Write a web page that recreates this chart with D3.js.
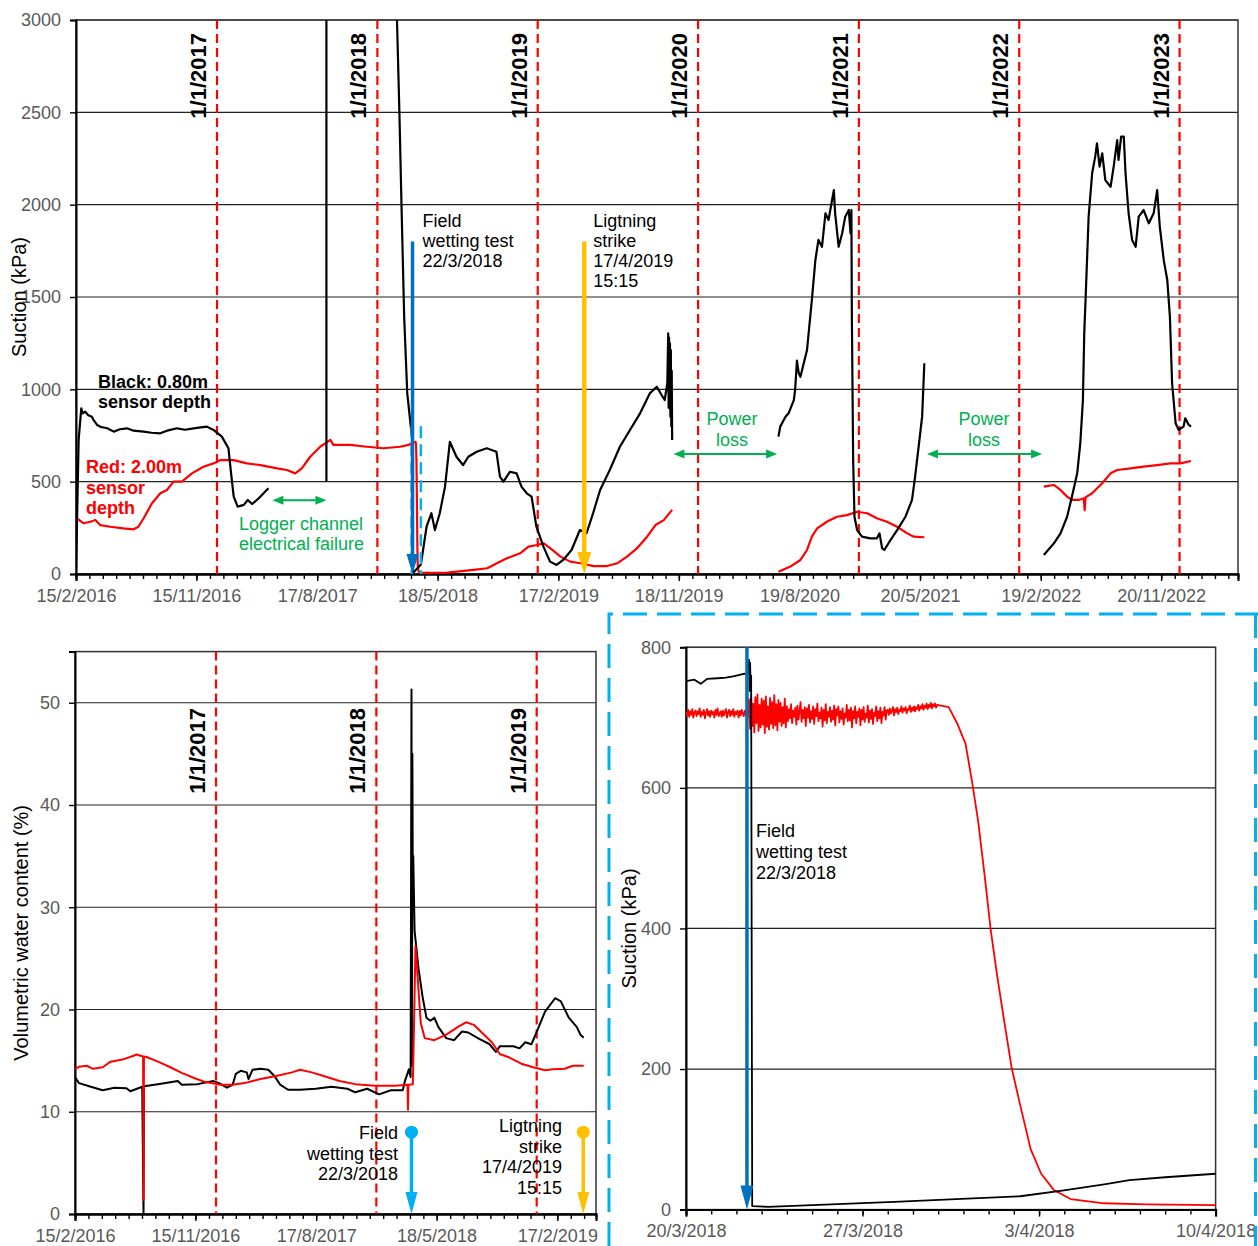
<!DOCTYPE html>
<html>
<head>
<meta charset="utf-8">
<script src="https://cdn.jsdelivr.net/npm/d3@7"></script>
<style>
  body { margin: 0; background: #fff; }
  svg { display: block; }
  text { font-family: "Liberation Sans", Arial, Helvetica, sans-serif; }
</style>
</head>
<body>
<svg id="chart" width="1258" height="1246"></svg>
<script>
// ---------- data ----------
const topTickLabels = ["15/2/2016", "15/11/2016", "17/8/2017", "18/5/2018", "17/2/2019",
  "18/11/2019", "19/8/2020", "20/5/2021", "19/2/2022", "20/11/2022"];
const vwcTickLabels = ["15/2/2016", "15/11/2016", "17/8/2017", "18/5/2018", "17/2/2019"];
const insetTickLabels = ["20/3/2018", "27/3/2018", "3/4/2018", "10/4/2018"];
const topYearLines = ["1/1/2017", "1/1/2018", "1/1/2019", "1/1/2020", "1/1/2021", "1/1/2022", "1/1/2023"];
const vwcYearLines = ["1/1/2017", "1/1/2018", "1/1/2019"];
const suctionTicks = [0, 500, 1000, 1500, 2000, 2500, 3000];
const vwcTicks = [0, 10, 20, 30, 40, 50];
const insetTicks = [0, 200, 400, 600, 800];

const eventDates = ["22/3/2018", "17/4/2019"];
const eventLabels = [["Field", "wetting test", "22/3/2018"], ["Ligtning", "strike", "17/4/2019", "15:15"]];
const insetWindow = ["20/3/2018", "10/4/2018"];
const insetEventTime = "2018-03-22T10:00";

// suction, 0.80 m sensor (kPa), one array per logged segment
const suction080 = [
  [["2016-02-15", 12], ["2016-02-21", 726], ["2016-02-27", 897], ["2016-03-01", 870], ["2016-03-07", 879],
   ["2016-03-14", 860], ["2016-03-22", 852], ["2016-03-27", 830], ["2016-04-03", 807], ["2016-04-12", 796],
   ["2016-04-26", 789], ["2016-05-11", 771], ["2016-05-25", 784], ["2016-06-10", 789], ["2016-06-25", 776],
   ["2016-07-18", 771], ["2016-08-05", 765], ["2016-08-25", 762], ["2016-09-12", 778], ["2016-10-02", 789],
   ["2016-10-20", 781], ["2016-11-09", 789], ["2016-11-25", 794], ["2016-12-09", 798], ["2016-12-24", 780],
   ["2017-01-12", 744], ["2017-01-27", 681], ["2017-02-02", 545], ["2017-02-08", 419], ["2017-02-17", 365],
   ["2017-03-03", 374], ["2017-03-12", 401], ["2017-03-22", 379], ["2017-04-06", 410], ["2017-04-28", 464]],
  [["2017-09-07", 500], ["2017-09-07", 3100]],
  [["2018-02-13", 3150], ["2018-02-20", 2513], ["2018-02-25", 1989], ["2018-03-03", 1393], ["2018-03-10", 980],
   ["2018-03-20", 755], ["2018-03-22", 765], ["2018-03-23", 5], ["2018-04-10", 51], ["2018-04-23", 256],
   ["2018-05-04", 329], ["2018-05-12", 238], ["2018-05-23", 329], ["2018-06-04", 473], ["2018-06-15", 716],
   ["2018-06-30", 635], ["2018-07-15", 590], ["2018-07-27", 635], ["2018-08-15", 662], ["2018-09-07", 681],
   ["2018-09-29", 662], ["2018-10-07", 527], ["2018-10-15", 500], ["2018-10-30", 554], ["2018-11-14", 545],
   ["2018-11-25", 473], ["2018-12-07", 437], ["2018-12-18", 419], ["2018-12-29", 256], ["2019-01-14", 148],
   ["2019-01-29", 67], ["2019-02-13", 49], ["2019-02-28", 76], ["2019-03-19", 130], ["2019-04-07", 238],
   ["2019-04-22", 220], ["2019-05-07", 329], ["2019-05-23", 455], ["2019-06-14", 563], ["2019-07-07", 689],
   ["2019-07-30", 780], ["2019-08-22", 870], ["2019-09-13", 978], ["2019-09-29", 1014], ["2019-10-10", 969],
   ["2019-10-17", 942], ["2019-10-23", 1033], ["2019-10-25", 1303], ["2019-10-26", 900], ["2019-10-27", 1280],
   ["2019-10-28", 950], ["2019-10-29", 1249], ["2019-10-30", 852], ["2019-10-31", 1213], ["2019-11-01", 800],
   ["2019-11-02", 1100], ["2019-11-03", 726]],
  [["2020-07-02", 744], ["2020-07-06", 798], ["2020-07-18", 852], ["2020-07-25", 870], ["2020-08-06", 942],
   ["2020-08-09", 1000], ["2020-08-13", 1155], ["2020-08-17", 1090], ["2020-08-21", 1068], ["2020-09-05", 1213],
   ["2020-09-16", 1484], ["2020-09-24", 1700], ["2020-10-01", 1809], ["2020-10-09", 1772], ["2020-10-17", 1953],
   ["2020-10-24", 1917], ["2020-11-01", 2025], ["2020-11-05", 2079], ["2020-11-08", 1953], ["2020-11-16", 1772],
   ["2020-11-24", 1845], ["2020-12-01", 1935], ["2020-12-09", 1971], ["2020-12-13", 1845], ["2020-12-15", 1971],
   ["2020-12-16", 1413], ["2020-12-19", 617], ["2020-12-22", 310], ["2020-12-28", 238], ["2021-01-08", 202],
   ["2021-01-27", 193], ["2021-02-11", 193], ["2021-02-17", 220], ["2021-02-23", 139], ["2021-02-28", 130],
   ["2021-03-14", 184], ["2021-03-29", 238], ["2021-04-17", 310], ["2021-05-02", 401], ["2021-05-09", 527],
   ["2021-05-17", 689], ["2021-05-25", 852], ["2021-05-30", 1141]],
  [["2022-02-26", 103], ["2022-03-21", 166], ["2022-04-05", 220], ["2022-04-20", 310], ["2022-05-01", 419],
   ["2022-05-13", 545], ["2022-05-20", 708], ["2022-05-26", 942], ["2022-05-29", 1303], ["2022-06-01", 1484],
   ["2022-06-08", 1935], ["2022-06-16", 2170], ["2022-06-23", 2260], ["2022-06-27", 2332], ["2022-07-03", 2206],
   ["2022-07-09", 2278], ["2022-07-16", 2133], ["2022-07-28", 2097], ["2022-08-04", 2206], ["2022-08-12", 2350],
   ["2022-08-15", 2242], ["2022-08-21", 2368], ["2022-08-27", 2368], ["2022-08-31", 2170], ["2022-09-07", 1953],
   ["2022-09-15", 1809], ["2022-09-23", 1772], ["2022-09-30", 1935], ["2022-10-11", 1971], ["2022-10-23", 1899],
   ["2022-11-03", 1953], ["2022-11-11", 2079], ["2022-11-17", 1881], ["2022-11-26", 1700], ["2022-12-04", 1592],
   ["2022-12-10", 1393], ["2022-12-15", 1033], ["2022-12-23", 816], ["2022-12-30", 780], ["2023-01-10", 798],
   ["2023-01-14", 843], ["2023-01-22", 807], ["2023-01-27", 798]]
];

// suction, 2.00 m sensor (kPa)
const suction200 = [
  [["2016-02-15", 94], ["2016-02-16", 302], ["2016-03-03", 275], ["2016-03-19", 283], ["2016-03-30", 292],
   ["2016-04-10", 265], ["2016-05-03", 256], ["2016-06-02", 247], ["2016-06-25", 242], ["2016-07-06", 256],
   ["2016-07-18", 302], ["2016-08-06", 383], ["2016-08-25", 437], ["2016-09-09", 455], ["2016-09-24", 500],
   ["2016-10-13", 500], ["2016-11-05", 545], ["2016-12-01", 581], ["2016-12-24", 599], ["2017-01-09", 617],
   ["2017-02-08", 617], ["2017-03-10", 599], ["2017-04-10", 590], ["2017-05-18", 572], ["2017-06-09", 563],
   ["2017-06-28", 545], ["2017-07-13", 572], ["2017-08-01", 635], ["2017-08-24", 689], ["2017-09-16", 726],
   ["2017-09-23", 699], ["2017-10-31", 699], ["2017-12-08", 689], ["2018-01-15", 681], ["2018-02-22", 689],
   ["2018-03-13", 699], ["2018-03-20", 708], ["2018-03-29", 716], ["2018-03-30", 700], ["2018-03-31", 611],
   ["2018-04-01", 400], ["2018-04-02", 150], ["2018-04-03", 40], ["2018-04-05", 12], ["2018-04-10", 6],
   ["2018-06-09", 7], ["2018-08-08", 22], ["2018-09-08", 31], ["2018-09-30", 58], ["2018-10-23", 85],
   ["2018-11-22", 112], ["2018-12-11", 148], ["2018-12-30", 157], ["2019-01-15", 166], ["2019-01-30", 139],
   ["2019-02-22", 94], ["2019-03-16", 67], ["2019-04-08", 58], ["2019-05-08", 43], ["2019-06-08", 43],
   ["2019-07-01", 58], ["2019-07-23", 94], ["2019-08-15", 139], ["2019-09-07", 202], ["2019-09-26", 265],
   ["2019-10-15", 292], ["2019-11-03", 347]],
  [["2020-07-02", 12], ["2020-07-29", 40], ["2020-08-21", 76], ["2020-09-05", 130], ["2020-09-16", 202],
   ["2020-09-28", 247], ["2020-10-20", 283], ["2020-11-12", 310], ["2020-12-05", 319], ["2020-12-28", 337],
   ["2021-01-20", 329], ["2021-02-11", 302], ["2021-03-06", 283], ["2021-03-29", 256], ["2021-04-21", 220],
   ["2021-05-06", 202], ["2021-05-30", 199]],
  [["2022-02-26", 473], ["2022-03-21", 482], ["2022-04-05", 455], ["2022-04-20", 419], ["2022-05-01", 401],
   ["2022-05-16", 401], ["2022-05-28", 410], ["2022-05-30", 345], ["2022-06-01", 415], ["2022-06-16", 437],
   ["2022-07-09", 491], ["2022-07-28", 545], ["2022-08-12", 563], ["2022-09-11", 572], ["2022-10-11", 581],
   ["2022-11-11", 590], ["2022-12-11", 599], ["2023-01-03", 599], ["2023-01-27", 612]]
];

// volumetric water content (%)
const vwc080 = [
  ["2016-02-15", 13.4], ["2016-02-24", 12.8], ["2016-03-22", 12.45], ["2016-04-18", 12.1], ["2016-05-15", 12.35],
  ["2016-06-11", 12.3], ["2016-06-20", 12.0], ["2016-07-17", 12.45], ["2016-07-20", 0], ["2016-07-21", 12.5],
  ["2016-08-22", 12.7], ["2016-10-06", 13.0], ["2016-10-15", 12.65], ["2016-11-20", 12.7], ["2016-12-26", 13.0],
  ["2017-01-08", 12.8], ["2017-01-26", 12.35], ["2017-02-08", 12.65], ["2017-02-15", 13.7], ["2017-02-26", 14.0],
  ["2017-03-12", 13.85], ["2017-03-16", 13.2], ["2017-03-25", 14.1], ["2017-04-12", 14.2], ["2017-04-30", 14.1],
  ["2017-05-14", 13.5], ["2017-05-27", 12.65], ["2017-06-14", 12.15], ["2017-07-11", 12.15], ["2017-08-16", 12.25],
  ["2017-09-21", 12.45], ["2017-10-27", 12.25], ["2017-11-14", 11.9], ["2017-12-11", 12.25], ["2018-01-07", 11.7],
  ["2018-02-03", 12.1], ["2018-03-02", 12.1], ["2018-03-07", 13.0], ["2018-03-16", 14.15], ["2018-03-20", 13.4],
  ["2018-03-22", 51.3], ["2018-03-23", 14.5], ["2018-03-24", 45], ["2018-03-25", 31], ["2018-03-26", 35],
  ["2018-03-29", 27.7], ["2018-04-07", 24.0], ["2018-04-16", 21.3], ["2018-04-25", 19.2], ["2018-05-04", 18.9],
  ["2018-05-13", 19.2], ["2018-05-22", 18.3], ["2018-06-09", 17.2], ["2018-06-27", 17.0], ["2018-07-15", 17.85],
  ["2018-07-29", 17.75], ["2018-08-20", 17.2], ["2018-09-16", 16.6], ["2018-09-30", 15.85], ["2018-10-09", 16.4],
  ["2018-11-09", 16.4], ["2018-11-23", 16.2], ["2018-12-06", 16.8], ["2018-12-20", 16.6], ["2019-01-02", 17.9],
  ["2019-01-20", 19.8], ["2019-02-12", 21.1], ["2019-02-25", 20.8], ["2019-03-15", 19.2], ["2019-04-02", 18.3],
  ["2019-04-11", 17.5], ["2019-04-18", 17.25]
];
const vwc200 = [
  ["2016-02-15", 14.15], ["2016-02-24", 14.4], ["2016-03-13", 14.5], ["2016-03-27", 14.2], ["2016-04-18", 14.35],
  ["2016-05-06", 14.9], ["2016-06-02", 15.1], ["2016-06-29", 15.5], ["2016-07-04", 15.6], ["2016-07-19", 15.4],
  ["2016-07-20", 1.4], ["2016-07-21", 15.4], ["2016-07-27", 15.35], ["2016-08-22", 14.9], ["2016-09-19", 14.35],
  ["2016-10-15", 13.8], ["2016-11-12", 13.3], ["2016-12-08", 12.9], ["2017-01-12", 12.65], ["2017-02-08", 12.65],
  ["2017-03-07", 12.8], ["2017-04-12", 13.2], ["2017-05-18", 13.5], ["2017-06-23", 13.85], ["2017-07-11", 14.1],
  ["2017-08-07", 13.85], ["2017-09-03", 13.5], ["2017-10-09", 13.0], ["2017-11-14", 12.7], ["2017-12-29", 12.55],
  ["2018-02-12", 12.55], ["2018-03-13", 12.65], ["2018-03-14", 10.2], ["2018-03-15", 12.65], ["2018-03-25", 12.7],
  ["2018-03-28", 19.1], ["2018-03-31", 26.2], ["2018-04-05", 23.2], ["2018-04-12", 18.7], ["2018-04-21", 17.2],
  ["2018-05-13", 17.0], ["2018-06-09", 17.55], ["2018-07-06", 18.3], ["2018-07-24", 18.75], ["2018-08-11", 18.5],
  ["2018-08-29", 17.75], ["2018-09-21", 16.8], ["2018-10-09", 15.65], ["2018-10-31", 15.3], ["2018-11-27", 14.7],
  ["2018-12-24", 14.35], ["2019-01-20", 14.05], ["2019-02-07", 14.15], ["2019-03-06", 14.2], ["2019-03-24", 14.5],
  ["2019-04-18", 14.5]
];

// inset, suction around the wetting test (kPa)
const inset080 = [
  ["2018-03-20T00:00", 752], ["2018-03-20T08:00", 754], ["2018-03-20T14:00", 748], ["2018-03-20T20:00", 755],
  ["2018-03-21T06:00", 756], ["2018-03-21T14:00", 757], ["2018-03-21T22:00", 759], ["2018-03-22T06:00", 762],
  ["2018-03-22T11:00", 763], ["2018-03-22T12:00", 782], ["2018-03-22T12:30", 738], ["2018-03-22T13:00", 778],
  ["2018-03-22T13:30", 745], ["2018-03-22T14:00", 760], ["2018-03-22T15:00", 5], ["2018-03-23T06:00", 4],
  ["2018-03-28T06:00", 11], ["2018-04-02T06:00", 19], ["2018-04-03T22:00", 27], ["2018-04-05T14:00", 36],
  ["2018-04-06T14:00", 42], ["2018-04-08T00:00", 46], ["2018-04-10T00:00", 51]
];
// hourly readings of the 2.00 m sensor from 20/3/2018 00:00 to 29/3/2018 23:00
const inset200Readings = [
  708, 703, 711, 701, 709, 704, 712, 700, 707, 710, 702, 709, 705, 713, 701, 708, 704, 711, 699, 707,
  712, 703, 709, 701, 710, 705, 708, 700, 711, 704, 713, 702, 706, 709, 701, 710, 703, 708, 712, 700,
  707, 711, 702, 709, 704, 712, 701, 708, 705, 710, 700, 709, 703, 711, 706, 702, 710, 704, 708, 701,
  726, 684, 731, 688, 720, 679, 729, 692, 733, 681, 718, 686, 727, 690, 724, 678, 730, 687, 716, 683,
  728, 691, 722, 685, 732, 689, 719, 682, 725, 694, 721, 688, 715, 692, 727, 686,
  716, 695, 712, 699, 719, 692, 710, 701, 714, 690, 717, 697, 708, 722, 694, 711, 699, 715, 688, 713,
  700, 718, 693, 709, 698, 716, 691, 712, 702, 720, 695, 707, 699, 714, 687, 711, 696, 719, 692, 708,
  701, 715, 694, 710, 697, 717, 689, 712, 703, 716, 693, 709, 698, 713, 690, 706, 700, 718, 695, 711,
  696, 714, 686, 709, 699, 716, 692, 708, 701, 713, 689, 711, 697, 715, 694, 706, 700, 717, 693, 710,
  698, 712, 691, 707, 702, 716, 695, 709, 699, 714, 692, 708, 703, 715, 697, 710,
  711, 704, 713, 706, 710, 715, 703, 712, 708, 714, 705, 711, 709, 716, 707, 713, 710, 715, 706, 712,
  711, 717, 708, 714, 710, 716, 709, 715, 712, 718, 710, 716, 713, 719, 711, 717, 714, 720, 712, 718,
  715, 721, 713, 719, 716, 720, 714, 718
];
const inset200Tail = [
  ["2018-03-30T10:00", 715], ["2018-03-30T18:00", 692], ["2018-03-31T02:00", 663], ["2018-03-31T08:00", 611],
  ["2018-03-31T14:00", 553], ["2018-03-31T20:00", 478], ["2018-04-01T02:00", 398], ["2018-04-01T08:00", 334],
  ["2018-04-01T14:00", 276], ["2018-04-01T22:00", 201], ["2018-04-02T06:00", 149], ["2018-04-02T16:00", 86],
  ["2018-04-03T02:00", 51], ["2018-04-03T14:00", 28], ["2018-04-04T06:00", 15], ["2018-04-05T14:00", 9],
  ["2018-04-07T06:00", 7.5], ["2018-04-10T00:00", 6.4]
];

// ---------- drawing ----------
const svg = d3.select("#chart");
const parseDMY = d3.timeParse("%d/%m/%Y");
const parseISO = d3.timeParse("%Y-%m-%d");
const parseDT = d3.timeParse("%Y-%m-%dT%H:%M");
const DAY = 864e5;
const RED = "#ff0000", GREEN = "#00b050", BLUE = "#0070c0", LBLUE = "#00b0f0", YELLOW = "#ffc000";

const asPoints = (arr, parse) => arr.map(d => [parse(d[0]), d[1]]);

const xTop = d3.scaleTime().domain([parseISO("2016-02-15"), parseISO("2023-05-14")]).range([76, 1238]);
const yTop = d3.scaleLinear().domain([0, 3000]).range([574, 20]);
const xVwc = d3.scaleTime().domain([parseISO("2016-02-15"), parseISO("2019-05-16")]).range([75, 596]);
const yVwc = d3.scaleLinear().domain([0, 55]).range([1214, 651.6]);
const xIn = d3.scaleTime().domain([parseDMY(insetWindow[0]), parseDMY(insetWindow[1])]).range([686, 1215.6]);
const yIn = d3.scaleLinear().domain([0, 800]).range([1209.6, 647.3]);

function stepDates(x, stepDays) {
  const [a, b] = x.domain();
  return d3.range(0, (b - a) / DAY + 0.01, stepDays).map(d => new Date(+a + d * DAY));
}

function panel(c) {
  const [x0, x1] = c.x.range();
  const [yb, yt] = c.y.range();
  const g = svg.append("g");
  svg.append("clipPath").attr("id", c.id).append("rect")
    .attr("x", x0).attr("y", yt).attr("width", x1 - x0).attr("height", yb - yt);

  g.selectAll("line.grid").data(c.yTicks.filter(v => v > 0)).join("line")
    .attr("x1", x0).attr("x2", x1).attr("y1", d => c.y(d)).attr("y2", d => c.y(d))
    .attr("stroke", "#222").attr("stroke-width", 1.2);
  g.append("rect").attr("x", x0).attr("y", yt).attr("width", x1 - x0).attr("height", yb - yt)
    .attr("fill", "none").attr("stroke", "#333").attr("stroke-width", 1.5);

  const ya = g.append("g").attr("transform", `translate(${x0},0)`)
    .call(d3.axisLeft(c.y).tickValues(c.yTicks).tickSize(6).tickPadding(9).tickFormat(d3.format("d")));
  const xm = g.append("g").attr("transform", `translate(0,${yb})`)
    .call(d3.axisBottom(c.x).tickValues(c.minor).tickSize(5).tickFormat(""));
  const xa = g.append("g").attr("transform", `translate(0,${yb})`)
    .call(d3.axisBottom(c.x).tickValues(c.labels.map(parseDMY)).tickSize(7).tickPadding(8)
      .tickFormat((d, i) => c.labels[i]));

  [ya, xm, xa].forEach(a => {
    a.select(".domain").attr("stroke", "#000").attr("stroke-width", 2);
    a.selectAll(".tick line").attr("stroke", "#000").attr("stroke-width", 1.4);
    a.selectAll(".tick text").attr("fill", "#595959").attr("font-size", 18)
      .attr("font-family", '"Liberation Sans", Arial, sans-serif');
  });

  g.append("text").attr("transform", `translate(${c.titleX},${(yb + yt) / 2}) rotate(-90)`)
    .attr("text-anchor", "middle").attr("font-size", 20).attr("fill", "#000").text(c.title);
  return g;
}

function yearLines(g, x, yb, yt, dates, labelTop) {
  dates.forEach(s => {
    const px = x(parseDMY(s));
    g.append("line").attr("x1", px).attr("x2", px).attr("y1", yt).attr("y2", yb)
      .attr("stroke", RED).attr("stroke-width", 2.2).attr("stroke-dasharray", "9,5");
    g.append("text").attr("transform", `translate(${px - 11},${labelTop}) rotate(-90)`)
      .attr("text-anchor", "end").attr("font-size", 22).attr("font-weight", "bold").text(s);
  });
}

function drawLines(g, clipId, segments, x, y, color, width) {
  const line = d3.line().x(d => x(d[0])).y(d => y(d[1]));
  g.append("g").attr("clip-path", `url(#${clipId})`).selectAll("path").data(segments).join("path")
    .attr("d", line).attr("fill", "none").attr("stroke", color).attr("stroke-width", width)
    .attr("stroke-linejoin", "round");
}

function head(g, x, y, dir, len, hw, color) {
  // dir: "down", "left", "right" – tip at (x, y)
  let pts;
  if (dir === "down") pts = [[x, y], [x - hw, y - len], [x + hw, y - len]];
  else if (dir === "left") pts = [[x, y], [x + len, y - hw], [x + len, y + hw]];
  else pts = [[x, y], [x - len, y - hw], [x - len, y + hw]];
  g.append("polygon").attr("points", pts.map(p => p.join(",")).join(" ")).attr("fill", color);
}

function vArrow(g, x, y1, y2, color, width, len, hw) {
  g.append("line").attr("x1", x).attr("x2", x).attr("y1", y1).attr("y2", y2 - len + 2)
    .attr("stroke", color).attr("stroke-width", width);
  head(g, x, y2, "down", len, hw, color);
}

function hDoubleArrow(g, xa, xb, y) {
  g.append("line").attr("x1", xa + 9).attr("x2", xb - 9).attr("y1", y).attr("y2", y)
    .attr("stroke", GREEN).attr("stroke-width", 2);
  head(g, xa, y, "left", 11, 4.5, GREEN);
  head(g, xb, y, "right", 11, 4.5, GREEN);
}

function lines(g, x, y, rows, lh, attrs) {
  const t = g.append("text").attr("x", x).attr("y", y);
  Object.entries(attrs).forEach(([k, v]) => t.attr(k, v));
  rows.forEach((r, i) => t.append("tspan").attr("x", x).attr("y", y + i * lh).text(r));
  return t;
}

// ---- top panel: suction time series ----
const gTop = panel({ id: "clipTop", x: xTop, y: yTop, yTicks: suctionTicks,
  minor: stepDates(xTop, 30.5), labels: topTickLabels, title: "Suction (kPa)", titleX: 26 });
yearLines(gTop, xTop, 574, 20, topYearLines, 33);
drawLines(gTop, "clipTop", suction200.map(s => asPoints(s, parseISO)), xTop, yTop, RED, 2.2);
drawLines(gTop, "clipTop", suction080.map(s => asPoints(s, parseISO)), xTop, yTop, "#000", 2.2);

// inset window markers
insetWindow.forEach(s => {
  const px = xTop(parseDMY(s));
  gTop.append("line").attr("x1", px).attr("x2", px).attr("y1", yTop(800)).attr("y2", yTop(0))
    .attr("stroke", LBLUE).attr("stroke-width", 2.5).attr("stroke-dasharray", "12,6");
});
const evX = eventDates.map(s => xTop(parseDMY(s)));
vArrow(gTop, evX[0], yTop(1800), yTop(0), BLUE, 3.5, 20, 6);
vArrow(gTop, evX[1], yTop(1800), yTop(0), YELLOW, 4.5, 22, 7);
lines(gTop, evX[0] + 10, 227, eventLabels[0], 20, { "font-size": 18 });
lines(gTop, evX[1] + 9, 227, eventLabels[1], 20, { "font-size": 18 });

lines(gTop, 98, 388, ["Black: 0.80m", "sensor depth"], 20, { "font-size": 18, "font-weight": "bold" });
lines(gTop, 86, 473, ["Red: 2.00m", "sensor", "depth"], 20.5, { "font-size": 18, "font-weight": "bold", fill: RED });

hDoubleArrow(gTop, xTop(parseISO("2017-05-07")), xTop(parseISO("2017-09-07")), yTop(400));
lines(gTop, 239, 530, ["Logger channel", "electrical failure"], 20, { "font-size": 18, fill: GREEN });
hDoubleArrow(gTop, xTop(parseISO("2019-11-06")), xTop(parseISO("2020-06-29")), yTop(650));
lines(gTop, 732, 425, ["Power", "loss"], 20.5, { "font-size": 18, fill: GREEN, "text-anchor": "middle" });
hDoubleArrow(gTop, xTop(parseISO("2021-06-05")), xTop(parseISO("2022-02-22")), yTop(650));
lines(gTop, 984, 425, ["Power", "loss"], 20.5, { "font-size": 18, fill: GREEN, "text-anchor": "middle" });

// ---- bottom left: volumetric water content ----
const gVwc = panel({ id: "clipVwc", x: xVwc, y: yVwc, yTicks: vwcTicks,
  minor: stepDates(xVwc, 30.5), labels: vwcTickLabels, title: "Volumetric water content (%)", titleX: 28 });
yearLines(gVwc, xVwc, 1214, 651.6, vwcYearLines, 708);
drawLines(gVwc, "clipVwc", [asPoints(vwc080, parseISO)], xVwc, yVwc, "#000", 2);
drawLines(gVwc, "clipVwc", [asPoints(vwc200, parseISO)], xVwc, yVwc, RED, 2);

const vwcEvX = eventDates.map(s => xVwc(parseDMY(s)));
[[vwcEvX[0], LBLUE], [vwcEvX[1], YELLOW]].forEach(([px, col]) => {
  vArrow(gVwc, px, yVwc(8), yVwc(0), col, 3.5, 22, 6);
  gVwc.append("circle").attr("cx", px).attr("cy", yVwc(8)).attr("r", 6.5).attr("fill", col);
});
lines(gVwc, 398, 1139, eventLabels[0], 20.5, { "font-size": 18, "text-anchor": "end" });
lines(gVwc, 562, 1132, eventLabels[1], 20.5, { "font-size": 18, "text-anchor": "end" });

// ---- bottom right: inset ----
const gIn = panel({ id: "clipIn", x: xIn, y: yIn, yTicks: insetTicks,
  minor: stepDates(xIn, 1), labels: insetTickLabels, title: "Suction (kPa)", titleX: 636 });
const t0 = parseDMY(insetWindow[0]);
const inset200 = inset200Readings.map((v, i) => [d3.timeHour.offset(t0, i), v])
  .concat(asPoints(inset200Tail, parseDT));
drawLines(gIn, "clipIn", [inset200], xIn, yIn, RED, 1.8);
drawLines(gIn, "clipIn", [asPoints(inset080, parseDT)], xIn, yIn, "#000", 1.8);
vArrow(gIn, xIn(parseDT(insetEventTime)), yIn(800), yIn(0), BLUE, 3.5, 24, 6.5);
lines(gIn, 756, 837, eventLabels[0], 21, { "font-size": 18 });

// dashed frame round the inset
svg.append("path").attr("d", "M609,1246 V614 H1258")
  .attr("fill", "none").attr("stroke", LBLUE).attr("stroke-width", 3).attr("stroke-dasharray", "24,10");
svg.append("line").attr("x1", 1255.5).attr("x2", 1255.5).attr("y1", 614).attr("y2", 1246)
  .attr("stroke", LBLUE).attr("stroke-width", 3).attr("stroke-dasharray", "24,10");
</script>
</body>
</html>
